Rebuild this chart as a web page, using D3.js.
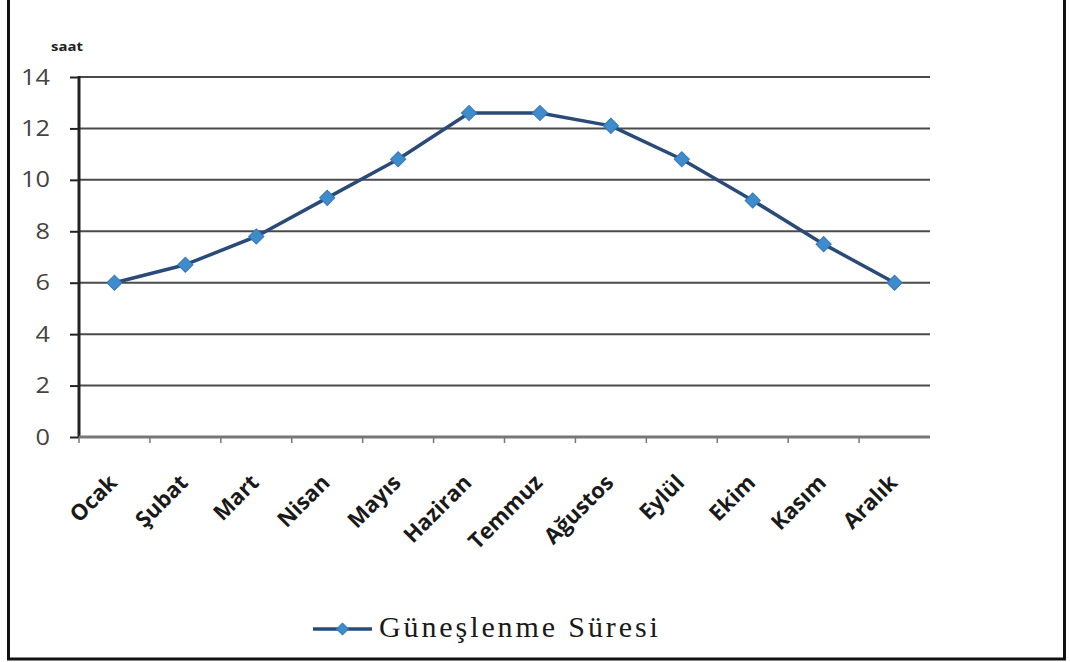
<!DOCTYPE html>
<html>
<head>
<meta charset="utf-8">
<script src="https://cdn.jsdelivr.net/npm/d3@7"></script>
<style>
  html, body { margin: 0; padding: 0; background: #fff; }
  svg { display: block; }
</style>
</head>
<body>
<svg id="chart" width="1070" height="662"></svg>
<script>
// Monthly sunshine duration (hours)
const months = ["Ocak", "Şubat", "Mart", "Nisan", "Mayıs", "Haziran", "Temmuz", "Ağustos", "Eylül", "Ekim", "Kasım", "Aralık"];
const hours = [6, 6.7, 7.8, 9.3, 10.8, 12.6, 12.6, 12.1, 10.8, 9.2, 7.5, 6];
const yTicks = [0, 2, 4, 6, 8, 10, 12, 14];
const seriesName = "Güneşlenme Süresi";
const unitLabel = "saat";

const svg = d3.select("#chart");
const sansFont = "'Open Sans', 'DejaVu Sans', sans-serif";
const stretch = 1.15; // tick and unit text is drawn slightly wide

// outer frame
svg.append("rect")
  .attr("x", 8.5).attr("y", -3)
  .attr("width", 1056).attr("height", 662)
  .attr("fill", "none").attr("stroke", "#111").attr("stroke-width", 3);

const plot = { left: 79, right: 930, top: 77, bottom: 437 };

const x = d3.scaleBand().domain(months).range([plot.left, plot.right]);
const y = d3.scaleLinear().domain([0, 14]).range([plot.bottom, plot.top]);

// horizontal gridlines
svg.append("g")
  .selectAll("line")
  .data(yTicks.filter(d => d > 0))
  .join("line")
  .attr("x1", plot.left).attr("x2", plot.right)
  .attr("y1", d => y(d)).attr("y2", d => y(d))
  .attr("stroke", "#4a4a4a").attr("stroke-width", 2);

// y axis
const yAxis = svg.append("g")
  .attr("transform", `translate(${plot.left},0)`)
  .call(d3.axisLeft(y).tickValues(yTicks).tickSize(9));
yAxis.select(".domain").attr("stroke", "#222").attr("stroke-width", 3)
  .attr("d", `M0,${plot.top - 1}V${plot.bottom + 1}`);
yAxis.selectAll(".tick line").attr("stroke", "#222").attr("stroke-width", 2);
yAxis.selectAll(".tick text")
  .attr("x", -29 / stretch)
  .attr("transform", `scale(${stretch},1)`)
  .attr("fill", "#444")
  .style("font-family", sansFont)
  .style("font-size", "22px");

// x axis: ticks between categories
const xAxisG = svg.append("g").attr("transform", `translate(0,${plot.bottom})`);
xAxisG.append("line")
  .attr("x1", plot.left).attr("x2", plot.right)
  .attr("y1", 0).attr("y2", 0)
  .attr("stroke", "#777").attr("stroke-width", 3);
xAxisG.selectAll("line.tk")
  .data(months)
  .join("line")
  .attr("class", "tk")
  .attr("x1", d => x(d)).attr("x2", d => x(d))
  .attr("y1", 0).attr("y2", 6)
  .attr("stroke", "#777").attr("stroke-width", 1.5);

// rotated month labels
xAxisG.selectAll("text")
  .data(months)
  .join("text")
  .attr("transform", d => `translate(${x(d) + x.bandwidth() / 2 + 4},${47}) rotate(-45)`)
  .attr("text-anchor", "end")
  .attr("fill", "#1a1a1a")
  .style("font-family", sansFont)
  .style("font-weight", "bold")
  .style("font-size", "22px")
  .text(d => d);

// unit label
svg.append("text")
  .attr("transform", `translate(51,51) scale(${stretch},1)`)
  .attr("fill", "#222")
  .style("font-family", sansFont)
  .style("font-weight", "bold")
  .style("font-size", "13px")
  .text(unitLabel);

// series line
const cx = d => x(d) + x.bandwidth() / 2;
const line = d3.line()
  .x((d, i) => cx(months[i]))
  .y(d => y(d));

svg.append("path")
  .datum(hours)
  .attr("d", line)
  .attr("fill", "none")
  .attr("stroke", "#2a4a78")
  .attr("stroke-width", 3.5)
  .attr("stroke-linejoin", "round");

svg.append("g")
  .selectAll("path")
  .data(hours)
  .join("path")
  .attr("transform", (d, i) => `translate(${cx(months[i])},${y(d)}) rotate(45)`)
  .attr("d", d3.symbol().type(d3.symbolSquare).size(115))
  .attr("fill", "#3f8ccc")
  .attr("stroke", "#3378b8")
  .attr("stroke-width", 1);

// legend
const lg = svg.append("g").attr("transform", "translate(313,629)");
lg.append("line")
  .attr("x1", 0).attr("x2", 59).attr("y1", 0).attr("y2", 0)
  .attr("stroke", "#2a4a78").attr("stroke-width", 3.5);
lg.append("path")
  .attr("transform", "translate(29.5,0) rotate(45)")
  .attr("d", d3.symbol().type(d3.symbolSquare).size(70))
  .attr("fill", "#3f8ccc").attr("stroke", "#3378b8").attr("stroke-width", 1);
lg.append("text")
  .attr("x", 66).attr("y", 8)
  .attr("fill", "#1a1a1a")
  .style("font-family", "'Liberation Serif', 'DejaVu Serif', serif")
  .style("font-size", "30px")
  .style("letter-spacing", "2.9px")
  .text(seriesName);
</script>
</body>
</html>
